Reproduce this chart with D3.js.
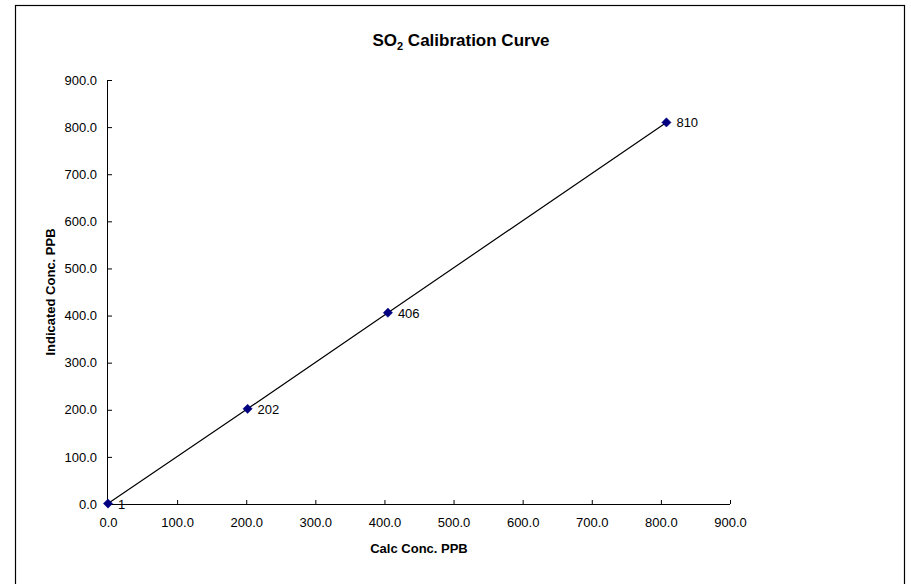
<!DOCTYPE html>
<html>
<head>
<meta charset="utf-8">
<script src="https://cdn.jsdelivr.net/npm/d3@7"></script>
<style>
  body { margin: 0; background: #fff; }
  text { font-family: "Liberation Sans", Arial, sans-serif; }
</style>
</head>
<body>
<svg id="chart" width="911" height="584"></svg>
<script>
// Calibration points
const calcConc = [0, 202, 405, 808];
const indicatedConc = [1, 202, 406, 810];
const pointLabels = ["1", "202", "406", "810"];
const tickValues = [0, 100, 200, 300, 400, 500, 600, 700, 800, 900];

const svg = d3.select("#chart");

// Outer chart border
svg.append("rect")
  .attr("x", 15.5).attr("y", 5.5)
  .attr("width", 889).attr("height", 590)
  .attr("fill", "#fff")
  .attr("stroke", "#000")
  .attr("stroke-width", 1.2);

const x = d3.scaleLinear().domain([0, 900]).range([108, 730]);
const y = d3.scaleLinear().domain([0, 900]).range([504, 80]);

// Axes
const xAxis = d3.axisBottom(x)
  .tickValues(tickValues)
  .tickSize(4)
  .tickFormat(d3.format(".1f"));
const yAxis = d3.axisLeft(y)
  .tickValues(tickValues)
  .tickSize(4)
  .tickFormat(d3.format(".1f"));

const gx = svg.append("g")
  .attr("transform", "translate(0,504)")
  .call(xAxis);
gx.selectAll(".tick line").attr("transform", "translate(0,-4)");
gx.selectAll("text").attr("dy", "0.71em").attr("y", 14);

const gy = svg.append("g")
  .attr("transform", "translate(108,0)")
  .call(yAxis);
gy.selectAll(".tick line").attr("transform", "translate(4,0)");
gy.selectAll("text").attr("x", -11);

[gx, gy].forEach(g => {
  g.selectAll("text").attr("font-size", 13).attr("fill", "#000")
    .attr("font-family", "Liberation Sans, Arial, sans-serif");
  g.select(".domain").attr("stroke", "#000");
  g.selectAll(".tick line").attr("stroke", "#000");
});
gx.select(".domain").attr("d", `M${x(0)},0.5H${x(900)}`);
gy.select(".domain").attr("d", `M-0.5,${y(0)}V${y(900)}`);

// Trend line through the points
const pts = calcConc.map((c, i) => ({ c, v: indicatedConc[i], label: pointLabels[i] }));
svg.append("path")
  .datum(pts)
  .attr("fill", "none")
  .attr("stroke", "#000")
  .attr("stroke-width", 1.2)
  .attr("d", d3.line().x(d => x(d.c)).y(d => y(d.v)));

// Markers
svg.selectAll(".pt")
  .data(pts)
  .enter()
  .append("path")
  .attr("class", "pt")
  .attr("transform", d => `translate(${x(d.c)},${y(d.v)})`)
  .attr("d", d3.symbol().type(d3.symbolDiamond2).size(55))
  .attr("fill", "#000080")
  .attr("stroke", "#000080")
  .attr("stroke-width", 0.5);

// Data labels
svg.selectAll(".lbl")
  .data(pts)
  .enter()
  .append("text")
  .attr("class", "lbl")
  .attr("x", d => x(d.c) + 10)
  .attr("y", d => y(d.v) + 5)
  .attr("font-size", 13)
  .text(d => d.label);

// Title with subscript
const title = svg.append("text")
  .attr("x", 461)
  .attr("y", 46)
  .attr("text-anchor", "middle")
  .attr("font-size", 17)
  .attr("font-weight", "bold");
title.append("tspan").text("SO");
title.append("tspan").attr("font-size", 11).attr("dy", 4).text("2");
title.append("tspan").attr("dy", -4).text(" Calibration Curve");

// Axis titles
svg.append("text")
  .attr("x", x(450))
  .attr("y", 553)
  .attr("text-anchor", "middle")
  .attr("font-size", 13)
  .attr("font-weight", "bold")
  .text("Calc Conc. PPB");

svg.append("text")
  .attr("transform", `translate(55,${y(450)}) rotate(-90)`)
  .attr("text-anchor", "middle")
  .attr("font-size", 13)
  .attr("font-weight", "bold")
  .text("Indicated Conc. PPB");
</script>
</body>
</html>
